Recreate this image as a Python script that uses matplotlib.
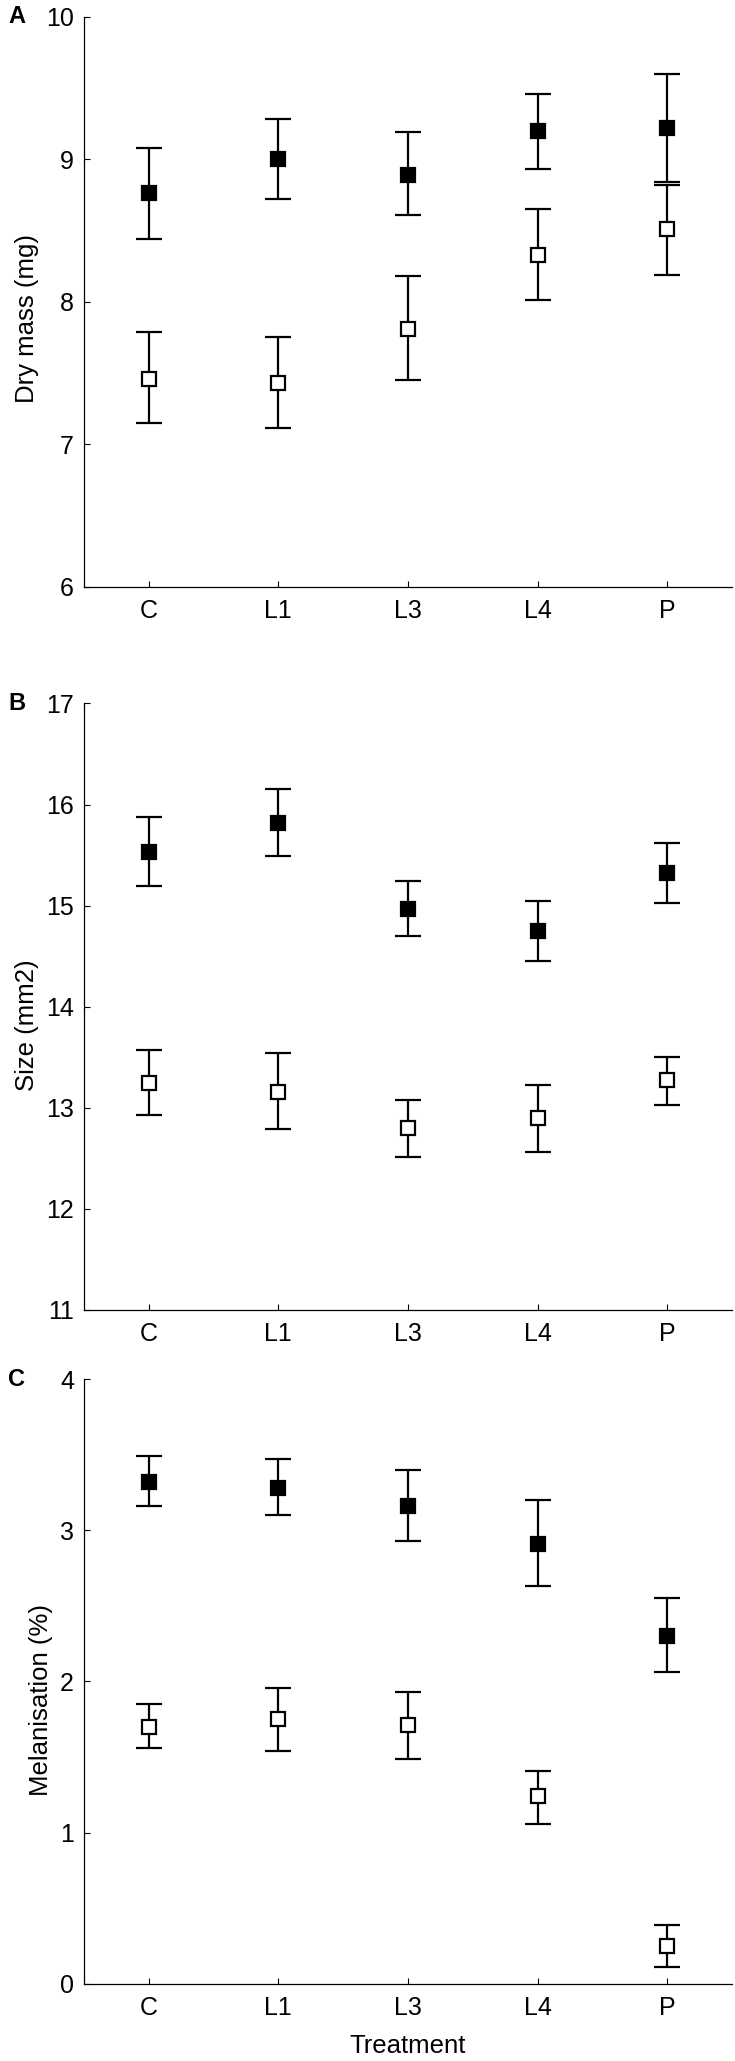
import matplotlib
matplotlib.use("Agg")
import matplotlib.pyplot as plt
import numpy as np

plt.rcParams['font.family'] = ['Liberation Sans', 'DejaVu Sans']

treatments = ["C", "L1", "L3", "L4", "P"]

# panel A - dry mass (mg)
mass_filled = [8.76, 9.00, 8.89, 9.20, 9.22]
mass_filled_lo = [8.44, 8.72, 8.61, 8.93, 8.84]
mass_filled_hi = [9.08, 9.28, 9.19, 9.46, 9.60]
mass_open = [7.46, 7.43, 7.81, 8.33, 8.51]
mass_open_lo = [7.15, 7.11, 7.45, 8.01, 8.19]
mass_open_hi = [7.79, 7.75, 8.18, 8.65, 8.82]

# panel B - size (mm2)
size_filled = [15.53, 15.82, 14.97, 14.75, 15.32]
size_filled_lo = [15.19, 15.49, 14.70, 14.45, 15.03]
size_filled_hi = [15.88, 16.15, 15.24, 15.05, 15.62]
size_open = [13.25, 13.16, 12.80, 12.90, 13.27]
size_open_lo = [12.93, 12.79, 12.51, 12.56, 13.03]
size_open_hi = [13.57, 13.54, 13.08, 13.23, 13.50]

# panel C - melanisation (%)
mel_filled = [3.32, 3.28, 3.16, 2.91, 2.30]
mel_filled_lo = [3.16, 3.10, 2.93, 2.63, 2.06]
mel_filled_hi = [3.49, 3.47, 3.40, 3.20, 2.55]
mel_open = [1.70, 1.75, 1.71, 1.24, 0.25]
mel_open_lo = [1.56, 1.54, 1.49, 1.06, 0.11]
mel_open_hi = [1.85, 1.96, 1.93, 1.41, 0.39]

panels = [
    ("A", "Dry mass (mg)", (6, 10), [6, 7, 8, 9, 10],
     (mass_filled, mass_filled_lo, mass_filled_hi),
     (mass_open, mass_open_lo, mass_open_hi)),
    ("B", "Size (mm2)", (11, 17), [11, 12, 13, 14, 15, 16, 17],
     (size_filled, size_filled_lo, size_filled_hi),
     (size_open, size_open_lo, size_open_hi)),
    ("C", "Melanisation (%)", (0, 4), [0, 1, 2, 3, 4],
     (mel_filled, mel_filled_lo, mel_filled_hi),
     (mel_open, mel_open_lo, mel_open_hi)),
]

fig = plt.figure(figsize=(7.35, 20.61), dpi=100)
boxes = [(0.9918, 0.7154), (0.6587, 0.3644), (0.3309, 0.0374)]
left, right = 0.114, 0.996

x = np.arange(len(treatments))
for (letter, ylabel, ylim, yticks, filled, opened), (top, bottom) in zip(panels, boxes):
    ax = fig.add_axes([left, bottom, right - left, top - bottom])
    for (mean, lo, hi), face in [(filled, 'black'), (opened, 'white')]:
        mean = np.array(mean)
        yerr = [mean - np.array(lo), np.array(hi) - mean]
        ax.errorbar(x, mean, yerr=yerr, fmt='none', ecolor='black',
                    elinewidth=1.6, capsize=9.5, capthick=1.6, zorder=2)
        ax.plot(x, mean, 's', ms=10, mfc=face, mec='black', mew=1.6,
                zorder=3)
    ax.set_xlim(-0.5, 4.5)
    ax.set_ylim(*ylim)
    ax.set_yticks(yticks)
    ax.set_xticks(x)
    ax.set_xticklabels(treatments)
    ax.spines['top'].set_visible(False)
    ax.spines['right'].set_visible(False)
    for s in ['left', 'bottom']:
        ax.spines[s].set_linewidth(0.9)
    ax.tick_params(direction='in', length=4, width=0.8, labelsize=18)
    ax.tick_params(axis='y', pad=7)
    ax.tick_params(axis='x', pad=9)
    ax.set_ylabel(ylabel, fontsize=18.5, labelpad=5, y=0.47)
    ax.text(-0.117, 1.0, letter, transform=ax.transAxes, ha='left',
            va='center', fontsize=17, fontweight='bold')
    if letter == "C":
        ax.set_xlabel("Treatment", fontsize=18.5, labelpad=10)

fig.savefig("out.png", dpi=100)
